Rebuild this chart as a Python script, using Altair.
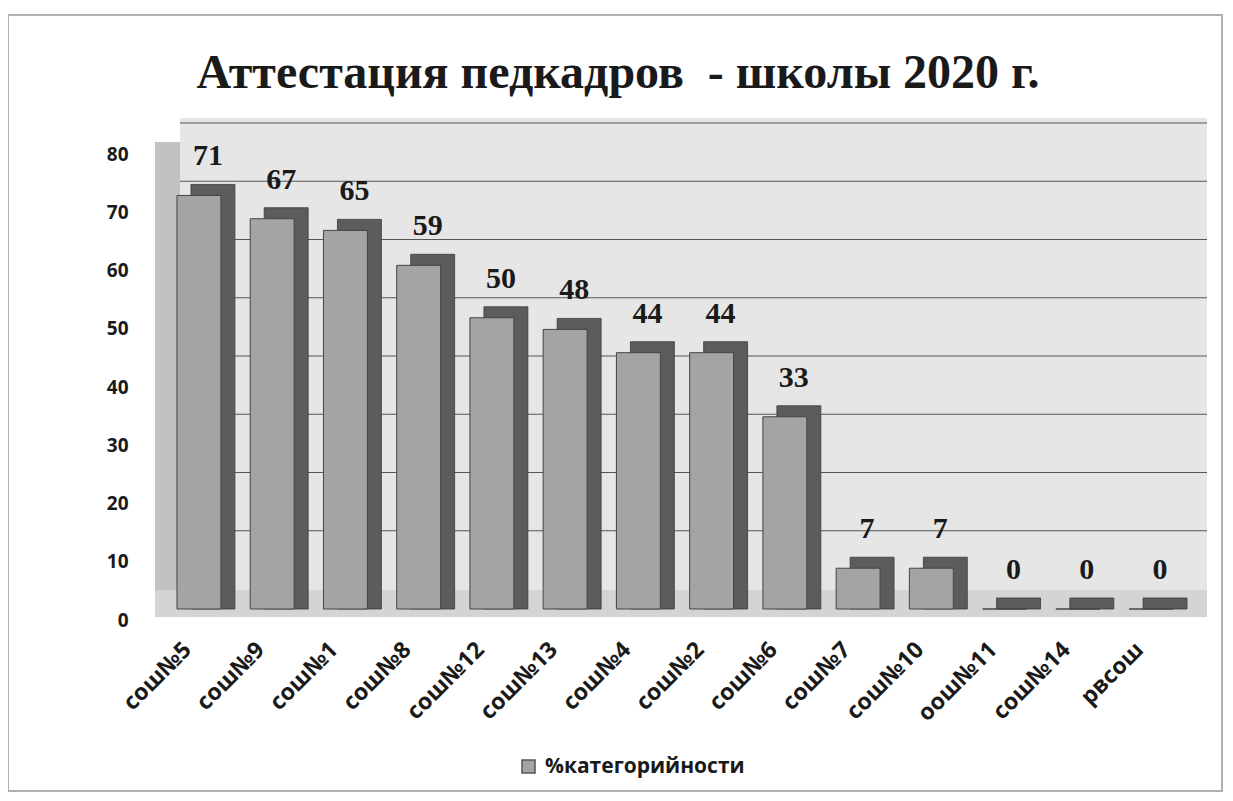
import altair as alt
import pandas as pd

chart_title = "Аттестация педкадров\u00a0 - школы 2020 г."
schools = ["сош№5", "сош№9", "сош№1", "сош№8", "сош№12", "сош№13", "сош№4",
           "сош№2", "сош№6", "сош№7", "сош№10", "оош№11", "сош№14", "рвсош"]
values = [71, 67, 65, 59, 50, 48, 44, 44, 33, 7, 7, 0, 0, 0]
series_name = "%категорийности"
grid_values = [10, 20, 30, 40, 50, 60, 70, 80]

df = pd.DataFrame({"school": schools, "value": values, "series": series_name})
grid_df = pd.DataFrame({"v": grid_values})

W, H = 1040, 466

xenc = alt.X("school:N", sort=schools, title=None,
             scale=alt.Scale(paddingInner=0.4, paddingOuter=0.3),
             axis=alt.Axis(labelAngle=-45, labelFont="Open Sans", labelFontWeight="bold",
                           labelFontSize=23, labelColor="#1a1a1a", labelPadding=29,
                           labelOffset=-19, domain=False, ticks=False))
yscale = alt.Scale(domain=[0, 80])
yenc = alt.Y("value:Q", scale=yscale, title=None,
             axis=alt.Axis(values=[0, 10, 20, 30, 40, 50, 60, 70, 80], grid=False,
                           domain=False, ticks=False, labelFont="Open Sans",
                           labelFontWeight="bold", labelFontSize=19, labelColor="#1a1a1a",
                           labelPadding=27, labelOffset=11))

border = alt.Chart(df).mark_rect(fillOpacity=0, stroke="#b0b0b0", strokeWidth=1.5).encode(
    x=alt.value(-147), x2=alt.value(1067), y=alt.value(-128), y2=alt.value(648)
)
title_mark = alt.Chart(df.head(1)).mark_text(
    text=chart_title, font="Liberation Serif", fontWeight="bold", fontSize=48,
    color="#1a1a1a", align="center", baseline="alphabetic"
).encode(x=alt.value(463), y=alt.value(-55))
backwall = alt.Chart(df).mark_rect(fill="#e6e6e6").encode(
    x=alt.value(25), x2=alt.value(1052), y=alt.value(-25), y2=alt.value(447)
)
leftwall = alt.Chart(df).mark_rect(fill="#c2c2c2").encode(
    x=alt.value(0), x2=alt.value(25), y=alt.value(-1), y2=alt.value(474)
)
floor = alt.Chart(df).mark_rect(fill="#d4d4d4").encode(
    x=alt.value(0), x2=alt.value(1052), y=alt.value(447), y2=alt.value(474)
)
grid = alt.Chart(grid_df).mark_rule(color="#555555", strokeWidth=1, yOffset=-20).encode(
    y=alt.Y("v:Q", scale=yscale), x=alt.value(25), x2=alt.value(1052)
)

side = alt.Chart(df).mark_bar(color="#5c5c5c", xOffset=14, yOffset=-11, stroke="#3a3a3a",
                              strokeWidth=0.8).encode(x=xenc, y=yenc, y2=alt.datum(0))
front = alt.Chart(df).mark_bar(stroke="#444444", strokeWidth=1).encode(
    x=xenc, y=yenc, y2=alt.datum(0),
    color=alt.Color("series:N", title=None,
                    scale=alt.Scale(range=["#a4a4a4"]),
                    legend=alt.Legend(orient="none", legendX=363, legendY=613,
                                      labelFont="Open Sans", labelLimit=0,
                                      labelFontWeight="bold", labelFontSize=21,
                                      labelColor="#1a1a1a", symbolType="square",
                                      symbolSize=170, symbolStrokeColor="#555",
                                      labelOffset=6))
)
labels = alt.Chart(df).mark_text(font="Liberation Serif", fontWeight="bold", fontSize=30,
                                 color="#1a1a1a", dx=9, dy=-39).encode(
    x=xenc, y=yenc, text="value:Q"
)

chart = alt.layer(border, title_mark, backwall, leftwall, floor, grid, side, front,
                  labels).properties(
    width=W, height=H,
    padding={"left": 147, "top": 135, "right": 30, "bottom": 185},
    autosize=alt.AutoSizeParams(type="none"),
).configure_view(stroke=None).configure(background="white")

chart.save("out.html", embed_options={"renderer": "svg", "actions": False})
